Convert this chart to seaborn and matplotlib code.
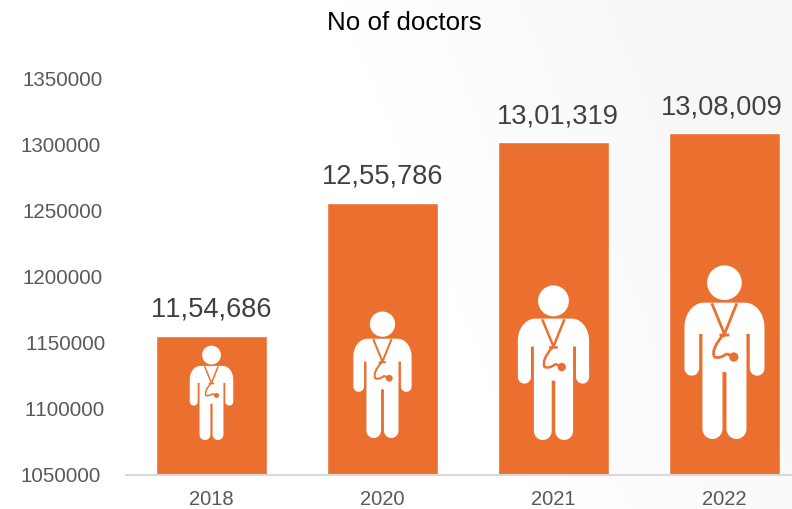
import numpy as np
import matplotlib
matplotlib.use('Agg')
import matplotlib.pyplot as plt
import pandas as pd
import seaborn as sns
from matplotlib.path import Path
from matplotlib.patches import PathPatch, Circle, Polygon
from matplotlib.transforms import Affine2D

years = ['2018', '2020', '2021', '2022']
doctors = [1154686, 1255786, 1301319, 1308009]
bar_labels = ['11,54,686', '12,55,786', '13,01,319', '13,08,009']
y_ticks = [1050000, 1100000, 1150000, 1200000, 1250000, 1300000, 1350000]

# icon height and feet position in pixels
icon_heights = [94, 126, 154, 173]
icon_feet = [440, 438, 440, 439]
# the labels are not quite lined up in the original (pixels)
label_nudge = [0, 0, 4, -2.5]
ytick_nudge = [-2, 2, 3, 0, 0, -2, 0]

orange = '#EB7030'
W, H = 792, 509

sns.set_theme(style='white')
plt.rcParams['font.family'] = ['Liberation Sans', 'DejaVu Sans']
plt.rcParams['text.kerning_factor'] = 16  # reference text has no kerning

fig = plt.figure(figsize=(W / 100, H / 100), dpi=100)

# faint grey sheen towards the right edge
bg = fig.add_axes([0, 0, 1, 1], zorder=0)
xx, yy = np.meshgrid(np.linspace(0, 1, 200), np.linspace(0, 1, 130))
shade = np.clip((xx - 0.5) / 0.5 + (0.5 - yy) * 0.5, 0, 1) * 0.035
bg.imshow(1 - shade, cmap='gray', vmin=0, vmax=1, aspect='auto')
bg.axis('off')

ax = fig.add_axes([126 / W, 1 - 474.5 / H, (W - 126) / W, (474.5 - 78) / H], zorder=1)
ax.patch.set_alpha(0)
data = pd.DataFrame({'year': years, 'doctors': doctors})
sns.barplot(x='year', y='doctors', data=data, color=orange, saturation=1, width=0.645, ax=ax)
ax.set_ylim(y_ticks[0], y_ticks[-1])
ax.set_xlim(-0.5, 3.395)
ax.set_xlabel('')
ax.set_ylabel('')
ax.set_yticks(y_ticks)
ax.set_yticklabels([str(t) for t in y_ticks])
ax.tick_params(axis='y', length=0, pad=17, labelsize=14.8, labelcolor='#595959')
ax.tick_params(axis='x', length=0, pad=11, labelsize=14.5, labelcolor='#595959')
sns.despine(ax=ax, left=True)
ax.spines['bottom'].set_color('#d9d9d9')
ax.spines['bottom'].set_linewidth(1.5)
texts = ax.bar_label(ax.containers[0], labels=bar_labels, padding=9.5, fontsize=19.6, color='#404040')
for t, dx in zip(texts, label_nudge):
    t.xyann = (dx * 0.72, t.xyann[1])
for lab, dx in zip(ax.get_yticklabels(), ytick_nudge):
    lab.set_transform(lab.get_transform() + Affine2D().translate(dx, 0))

fig.text(404 / W, 1 - 23 / H, 'No of doctors', ha='center', va='center', fontsize=18.6, color='black')


def arc(cx, cy, rx, ry, a0, a1):
    t = np.radians(np.linspace(a0, a1, 14))
    return np.column_stack([cx + rx * np.cos(t), cy + ry * np.sin(t)])


def body_points():
    # right half and left half of the outline, box 519 high, origin between the feet
    parts = [
        [(0, 409), (62, 409)],
        arc(62, 335, 58, 74, 90, 0),
        arc(98, 212, 22, 22, 0, -180),
        [(76, 315), (66, 315)],
        arc(36, 30, 30, 30, 0, -180),
        [(6, 200), (3, 200), (-3, 200), (-6, 200)],
        arc(-36, 30, 30, 30, 0, -180),
        [(-66, 315), (-76, 315)],
        arc(-98, 212, 22, 22, 0, -180),
        arc(-62, 335, 58, 74, 180, 90),
    ]
    return np.vstack(parts) / 519


def scope_path():
    pts = [(-38, 407), (0, 315), (37, 407), (-15, 312), (15, 312), (-4, 312), (-42, 268), (-30, 246),
           (-14, 240), (4, 254), (12, 258), (24, 244)]
    codes = [Path.MOVETO, Path.LINETO, Path.LINETO, Path.MOVETO, Path.LINETO, Path.MOVETO, Path.CURVE3,
             Path.CURVE3, Path.CURVE3, Path.CURVE3, Path.CURVE3, Path.CURVE3]
    return Path(np.array(pts) / 519, codes)


def draw_doctor(i, feet_px, h_px):
    # anchor under the bar centre, sizes in pixels
    cx = ax.transData.transform((i, y_ticks[0]))[0]
    tr = Affine2D().scale(h_px).translate(cx, H - feet_px)
    fig.add_artist(Polygon(body_points(), fc='white', ec='none', transform=tr, zorder=3))
    fig.add_artist(Circle((0, 469 / 519), 52 / 519, fc='white', ec='none', transform=tr, zorder=3))
    fig.add_artist(PathPatch(scope_path(), fc='none', ec=orange, lw=h_px * 0.0115, transform=tr, zorder=4))
    fig.add_artist(Circle((28 / 519, 246 / 519), 14 / 519, fc=orange, ec='none', transform=tr, zorder=4))
    # leg split
    fig.add_artist(Polygon(np.array([(-3, 0), (3, 0), (3, 200), (-3, 200)]) / 519, fc=orange, ec='none',
                           transform=tr, zorder=4))


for i, (f, h) in enumerate(zip(icon_feet, icon_heights)):
    draw_doctor(i, f, h)

fig.savefig('out.png', dpi=100)
